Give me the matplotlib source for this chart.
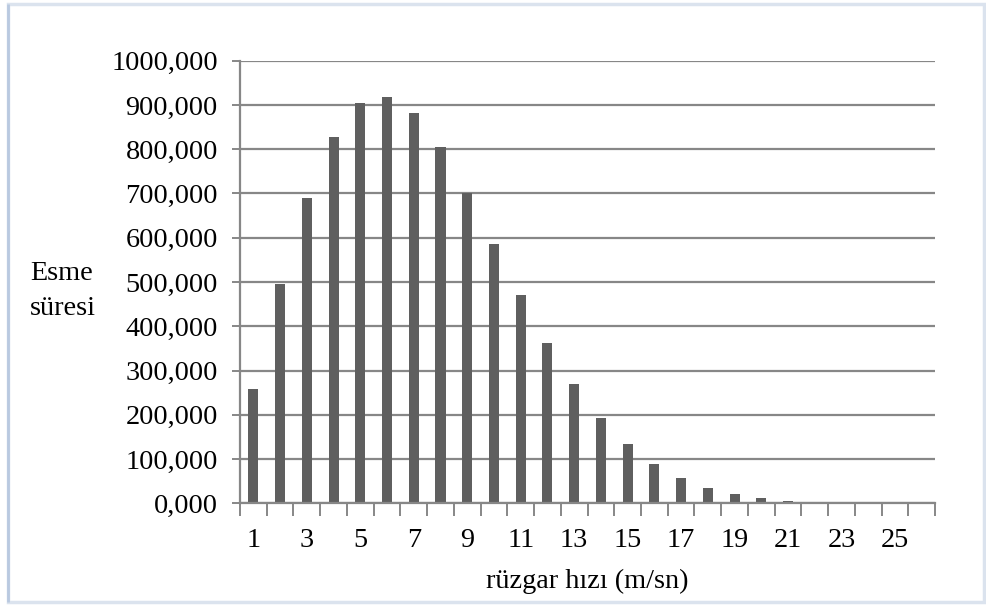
import matplotlib
matplotlib.use("Agg")
import matplotlib.pyplot as plt
from matplotlib.patches import Rectangle
import numpy as np

# rüzgar hızı sınıfları (m/sn) ve esme süreleri
speeds = list(range(1, 27))
durations = [258, 495, 689, 827, 904, 918, 881, 804, 700, 586,
             470, 362, 270, 192, 133, 88, 56.5, 35, 20, 11,
             5.5, 2.5, 1.2, 0.5, 0.2, 0.1]
y_ticks = [0, 100, 200, 300, 400, 500, 600, 700, 800, 900, 1000]

plt.rcParams['font.family'] = ['Liberation Serif', 'DejaVu Serif']
fs = 20.3

fig = plt.figure(figsize=(9.87, 6.08), dpi=100)
ax = fig.add_axes([0.2432, 0.1722, 0.9473 - 0.2432, 0.9002 - 0.1722])

grid_col = '#878787'
x = np.arange(len(speeds))
ax.bar(x, durations, width=0.375, color='#5f5f5f', zorder=3)

ax.set_xlim(-0.5, len(speeds) - 0.5)
ax.set_ylim(0, 1000)

# y ekseni
ax.set_yticks(y_ticks)
ax.set_yticklabels([f"{v:.3f}".replace('.', ',') for v in y_ticks], fontsize=fs)
ax.yaxis.grid(True, color=grid_col, linewidth=1.6, zorder=0)
ax.tick_params(axis='y', length=6, width=1.4, color=grid_col, pad=10)

# x ekseni: çizgiler sınıf sınırlarında, etiketler tek sayılarda
ax.set_xticks(np.arange(-0.5, len(speeds), 1.0))
ax.set_xticklabels([])
ax.tick_params(axis='x', which='major', length=9, width=1.4, color=grid_col)
odd = [i for i, s in enumerate(speeds) if s % 2 == 1]
ax.set_xticks(odd, minor=True)
ax.set_xticklabels([str(speeds[i]) for i in odd], minor=True, fontsize=fs)
ax.tick_params(axis='x', which='minor', length=0, pad=18)

for side in ['top', 'right']:
    ax.spines[side].set_visible(False)
for side in ['left', 'bottom']:
    ax.spines[side].set_color(grid_col)
    ax.spines[side].set_linewidth(1.6)
    ax.spines[side].set_zorder(4)

fig.text(30 / 987, 1 - 280 / 608, 'Esme', fontsize=fs, ha='left', va='baseline')
fig.text(30 / 987, 1 - 315 / 608, 'süresi', fontsize=fs, ha='left', va='baseline')
fig.text(587 / 987, 1 - 588 / 608, 'rüzgar hızı (m/sn)', fontsize=fs, ha='center', va='baseline')

# grafik alanı çerçevesi
fig.patches.append(Rectangle((8 / 987, 6 / 608), 976 / 987, 598 / 608,
                             transform=fig.transFigure, fill=False,
                             edgecolor='#dbe3ee', linewidth=2.5))
fig.patches.append(Rectangle((8 / 987, 6 / 608), 0, 598 / 608,
                             transform=fig.transFigure, fill=False,
                             edgecolor='#b9c9e0', linewidth=2))

fig.savefig('out.png', dpi=100)
